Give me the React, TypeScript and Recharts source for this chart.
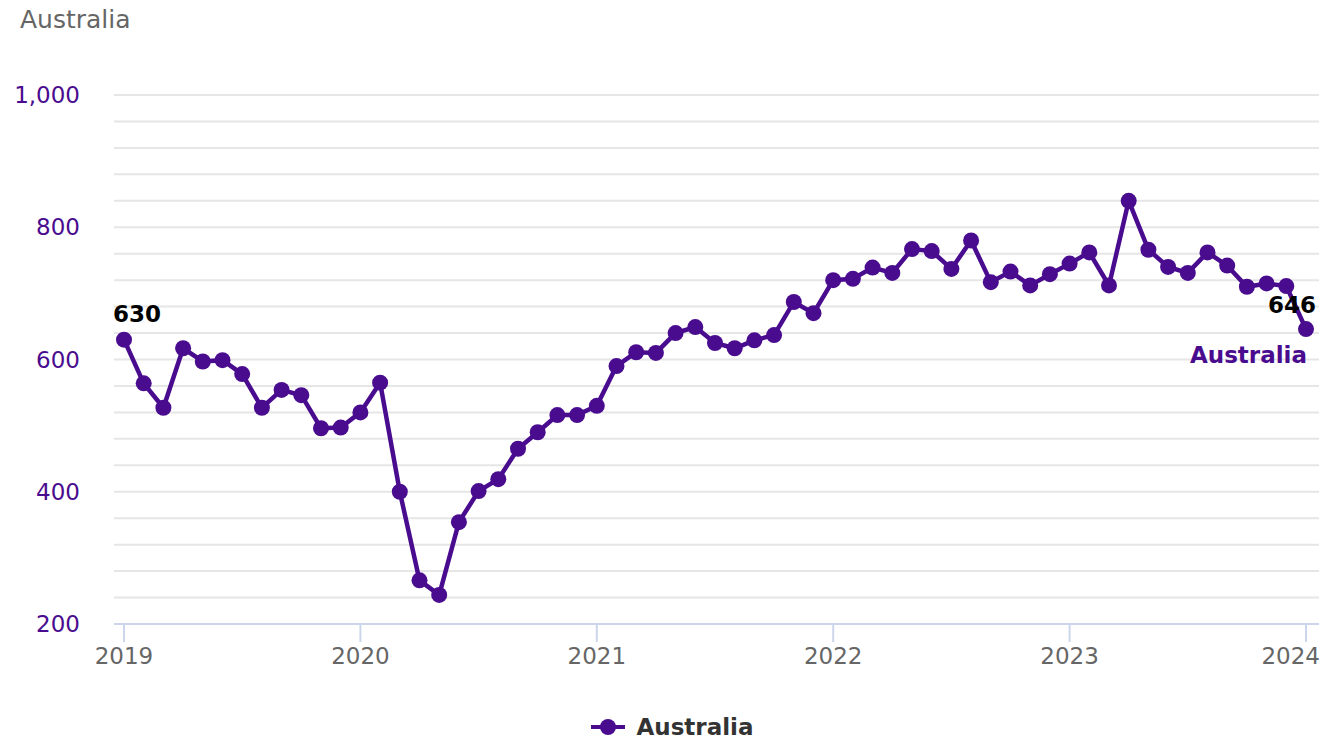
import { LineChart, Line, XAxis, YAxis, CartesianGrid, Legend, LabelList } from 'recharts';

const seriesName = 'Australia';

// monthly values, Jan 2019 .. Jan 2024
const values = [
  630, 564, 527, 617, 597, 599, 578, 527, 554, 546, 496, 497,
  520, 565, 400, 266, 244, 354, 401, 419, 465, 490, 516, 516,
  530, 590, 611, 610, 640, 649, 625, 617, 629, 637, 687, 670,
  720, 722, 739, 731, 767, 764, 737, 780, 717, 733, 712, 729,
  745, 762, 712, 840, 766, 740, 731, 762, 742, 710, 715, 711,
  646,
];

const yearLabels = ['2019', '2020', '2021', '2022', '2023', '2024'];
const yearTicks = [0, 12, 24, 36, 48, 60];
const yTicks = [200, 240, 280, 320, 360, 400, 440, 480, 520, 560, 600, 640, 680, 720, 760, 800, 840, 880, 920, 960, 1000];

const data = values.map((v, i) => ({ month: i, value: v }));

const purple = '#4a0c8f';
const font = '"DejaVu Sans", Verdana, sans-serif';

function EndLabels(props: any) {
  const { x, y, index } = props;
  if (index === 0) {
    return (
      <text x={x - 11} y={y - 18} fontSize={23} fontWeight="bold" fill="#000" fontFamily={font}>
        {values[0]}
      </text>
    );
  }
  if (index === values.length - 1) {
    return (
      <g fontFamily={font} fontWeight="bold" fontSize={23}>
        <text x={x + 10} y={y - 16} textAnchor="end" fill="#000">
          {values[index]}
        </text>
        <text x={x + 1} y={y + 34} textAnchor="end" fill={purple}>
          {seriesName}
        </text>
      </g>
    );
  }
  return null;
}

function YearTick(props: any) {
  const { x, y, payload } = props;
  const last = payload.value === yearTicks[yearTicks.length - 1];
  return (
    <text
      x={last ? x + 14 : x}
      y={y}
      dy="0.71em"
      textAnchor={last ? 'end' : 'middle'}
      fill="#666"
      fontSize={23}
      fontFamily={font}
    >
      {yearLabels[yearTicks.indexOf(payload.value)]}
    </text>
  );
}

function LegendBox() {
  return (
    <div style={{ height: 28, display: 'flex', justifyContent: 'center', alignItems: 'center', paddingLeft: 26 }}>
      <svg width={34} height={20} style={{ marginRight: 11 }}>
        <line x1={0} y1={10} x2={34} y2={10} stroke={purple} strokeWidth={4} />
        <circle cx={17} cy={10} r={8} fill={purple} />
      </svg>
      <span style={{ fontFamily: font, fontWeight: 'bold', fontSize: 23, color: '#333' }}>{seriesName}</span>
    </div>
  );
}

export default function App() {
  return (
    <div style={{ position: 'absolute', left: 0, top: 0, width: 1337, height: 741, background: '#fff' }}>
      <div style={{ position: 'absolute', left: 20, top: 5, fontFamily: font, fontSize: 25, color: '#666' }}>
        {seriesName}
      </div>
      <LineChart width={1337} height={741} data={data} margin={{ top: 95, right: 18, left: 0, bottom: 0 }}>
        <CartesianGrid vertical={false} stroke="#e6e6e6" strokeWidth={2} />
        <XAxis
          dataKey="month"
          type="number"
          domain={[0, 60]}
          ticks={yearTicks}
          padding={{ left: 10, right: 13 }}
          height={89}
          tickSize={18}
          tickMargin={6}
          axisLine={{ stroke: '#ccd6eb', strokeWidth: 2 }}
          tickLine={{ stroke: '#ccd6eb', strokeWidth: 2 }}
          tick={<YearTick />}
        />
        <YAxis
          domain={[200, 1000]}
          ticks={yTicks}
          interval={0}
          width={114}
          tickSize={0}
          tickMargin={34}
          axisLine={false}
          tickLine={false}
          tickFormatter={(v: number) => (v % 200 === 0 ? v.toLocaleString('en-US') : '')}
          tick={{ fill: purple, fontSize: 23, fontFamily: font }}
        />
        <Legend verticalAlign="bottom" content={<LegendBox />} />
        <Line
          dataKey="value"
          name={seriesName}
          stroke={purple}
          strokeWidth={4.5}
          dot={{ r: 8, fill: purple, stroke: 'none' }}
          activeDot={false}
          isAnimationActive={false}
        >
          <LabelList dataKey="value" content={<EndLabels />} />
        </Line>
      </LineChart>
    </div>
  );
}
